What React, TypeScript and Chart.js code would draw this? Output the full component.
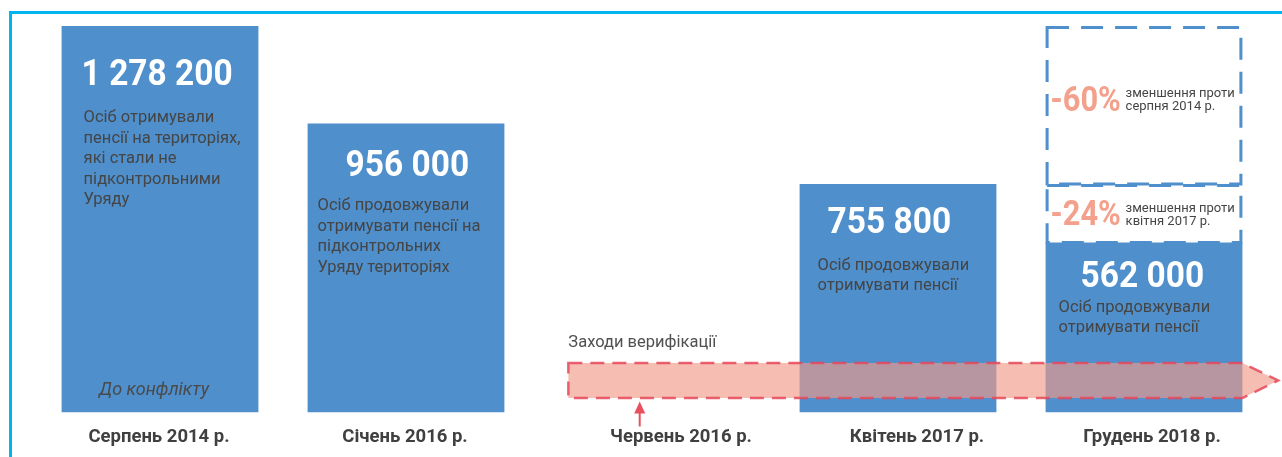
import React, { useEffect, useRef } from 'react';
import { Chart, registerables } from 'chart.js';

Chart.register(...registerables);

const categories = ['Серпень 2014 р.', 'Січень 2016 р.', 'Червень 2016 р.', 'Квітень 2017 р.', 'Грудень 2018 р.'];
const pensioners: (number | null)[] = [1278200, 956000, null, 755800, 562000];
const valueLabels = ['1 278 200', '956 000', '', '755 800', '562 000'];
const descriptions: string[][] = [
  ['Осіб отримували', 'пенсії на територіях,', 'які стали не', 'підконтрольними', 'Уряду'],
  ['Осіб продовжували', 'отримувати пенсії на', 'підконтрольних', 'Уряду територіях'],
  [],
  ['Осіб продовжували', 'отримувати пенсії'],
  ['Осіб продовжували', 'отримувати пенсії'],
];
const preConflictNote = 'До конфлікту';

const reductionFrom = [755800, 562000];
const reductionTo = [1278200, 755800];
const reductionLabels = ['-60%', '-24%'];
const reductionTexts = [
  ['зменшення проти', 'серпня 2014 р.'],
  ['зменшення проти', 'квітня 2017 р.'],
];
const reductionBarIndex = 4;

const verificationLabel = 'Заходи верифікації';
const verificationStart = 1.66;
const verificationEnd = 4.4;
const verificationTip = 4.545;
const verificationMarker = 1.95;

// layout (pixel offsets) for text placed around the marks
const tickLabelShift = [-1, -1, 29, 19, 8];
const textLayout = [
  { numDx: 20, numDy: 59, descDx: 22, descDy: 37 },
  { numDx: 38, numDy: 53, descDx: 10, descDy: 34 },
  { numDx: 0, numDy: 0, descDx: 0, descDy: 0 },
  { numDx: 28, numDy: 49, descDx: 18, descDy: 37 },
  { numDx: 35, numDy: 44, descDx: 13, descDy: 25 },
];
const reductionLayout = [
  { pctDy: 85, line1Dy: 71, line2Dy: 84 },
  { pctDy: 41, line1Dy: 28, line2Dy: 41 },
];

const BLUE = '#4f8fcc';
const TEXT_DARK = '#454545';

function condensedText(ctx: CanvasRenderingContext2D, text: string, x: number, y: number, sx: number) {
  ctx.save();
  ctx.translate(x, y);
  ctx.scale(sx, 1);
  ctx.fillText(text, 0, 0);
  ctx.restore();
}

const overlayPlugin = {
  id: 'overlay',
  afterDatasetsDraw(chart: any) {
    const ctx: CanvasRenderingContext2D = chart.ctx;
    const meta = chart.getDatasetMeta(0);
    const xs = chart.scales.x;
    const ys = chart.scales.y;
    const area = chart.chartArea;
    ctx.save();
    ctx.textAlign = 'left';
    ctx.textBaseline = 'alphabetic';

    meta.data.forEach((bar: any, i: number) => {
      if (pensioners[i] == null) return;
      const p = bar.getProps(['x', 'y', 'width'], true);
      const left = p.x - p.width / 2;
      const L = textLayout[i];
      ctx.fillStyle = '#ffffff';
      ctx.font = 'bold 36px Roboto';
      condensedText(ctx, valueLabels[i], left + L.numDx, p.y + L.numDy, 0.93);
      ctx.fillStyle = TEXT_DARK;
      ctx.font = '16.5px Roboto';
      descriptions[i].forEach((line, k) => {
        ctx.fillText(line, left + L.descDx, p.y + L.numDy + L.descDy + k * 20.5);
      });
      if (i === 0) {
        ctx.font = 'italic 18px Roboto';
        ctx.textAlign = 'center';
        ctx.fillStyle = '#4a4a4a';
        ctx.fillText(preConflictNote, p.x - 6, area.bottom - 18);
        ctx.textAlign = 'left';
      }
    });

    // reduction dashed boxes
    const rb = meta.data[reductionBarIndex].getProps(['x', 'width'], true);
    const bl = rb.x - rb.width / 2;
    reductionFrom.forEach((from, k) => {
      const top = ys.getPixelForValue(reductionTo[k]);
      const bottom = ys.getPixelForValue(from);
      ctx.save();
      ctx.strokeStyle = BLUE;
      ctx.lineWidth = 3;
      ctx.setLineDash([22, 12]);
      ctx.strokeRect(bl + 1.5, top + 1.5, rb.width - 3, bottom - top - 1.5);
      ctx.restore();
      const R = reductionLayout[k];
      ctx.fillStyle = '#f3a08c';
      ctx.font = 'bold 35px Roboto';
      condensedText(ctx, reductionLabels[k], bl + 5, top + R.pctDy, 0.88);
      ctx.fillStyle = TEXT_DARK;
      ctx.font = '13px Roboto';
      ctx.fillText(reductionTexts[k][0], bl + 80, top + R.line1Dy);
      ctx.fillText(reductionTexts[k][1], bl + 80, top + R.line2Dy);
    });

    // verification band
    const x0 = xs.getPixelForValue(verificationStart);
    const x1 = xs.getPixelForValue(verificationEnd);
    const xt = xs.getPixelForValue(verificationTip);
    const bTop = area.bottom - 49.5;
    const bBot = area.bottom - 14.5;
    const bMid = (bTop + bBot) / 2;
    ctx.beginPath();
    ctx.moveTo(x0, bTop);
    ctx.lineTo(x1, bTop);
    ctx.lineTo(xt, bMid);
    ctx.lineTo(x1, bBot);
    ctx.lineTo(x0, bBot);
    ctx.closePath();
    ctx.fillStyle = 'rgba(241,153,138,0.65)';
    ctx.fill();
    ctx.save();
    ctx.setLineDash([14, 8]);
    ctx.lineWidth = 2.5;
    ctx.strokeStyle = 'rgba(232,72,88,0.85)';
    ctx.stroke();
    ctx.restore();

    ctx.fillStyle = '#505050';
    ctx.font = '16.5px Roboto';
    ctx.fillText(verificationLabel, x0, bTop - 16);

    // marker arrow
    const xm = xs.getPixelForValue(verificationMarker);
    ctx.strokeStyle = '#e8505f';
    ctx.fillStyle = '#e8505f';
    ctx.lineWidth = 2;
    ctx.beginPath();
    ctx.moveTo(xm, area.bottom + 14);
    ctx.lineTo(xm, area.bottom - 2);
    ctx.stroke();
    ctx.beginPath();
    ctx.moveTo(xm, area.bottom - 11);
    ctx.lineTo(xm - 5.5, area.bottom + 1);
    ctx.lineTo(xm + 5.5, area.bottom + 1);
    ctx.closePath();
    ctx.fill();

    // category labels
    ctx.fillStyle = '#404040';
    ctx.font = 'bold 18.5px Roboto';
    ctx.textAlign = 'center';
    categories.forEach((c, i) => {
      ctx.fillText(c, xs.getPixelForValue(i) + tickLabelShift[i], area.bottom + 29);
    });

    ctx.restore();
  },
};

export default function App() {
  const canvasRef = useRef<HTMLCanvasElement | null>(null);

  useEffect(() => {
    if (!canvasRef.current) return;
    const chart = new Chart(canvasRef.current, {
      type: 'bar',
      data: {
        labels: categories,
        datasets: [
          {
            data: pensioners as any,
            backgroundColor: BLUE,
            borderWidth: 0,
            categoryPercentage: 1,
            barPercentage: 0.8,
          },
        ],
      },
      options: {
        animation: false,
        responsive: false,
        maintainAspectRatio: false,
        layout: { padding: { left: 37, right: 15, top: 26, bottom: 0 } },
        plugins: { legend: { display: false }, tooltip: { enabled: false }, title: { display: false } },
        scales: {
          x: {
            grid: { display: false, drawTicks: false },
            border: { display: false },
            ticks: { display: false },
            afterFit: (s: any) => {
              s.height = 44.5;
            },
          },
          y: { display: false, min: 0, max: 1278200 },
        },
      },
      plugins: [overlayPlugin],
    });
    return () => chart.destroy();
  }, []);

  return (
    <div style={{ position: 'fixed', left: 0, top: 0, width: 1282, height: 457, background: '#fff', overflow: 'hidden' }}>
      <div
        style={{
          position: 'absolute',
          left: 9,
          top: 11,
          width: 1400,
          height: 600,
          borderTop: '3px solid #00b4f0',
          borderLeft: '3px solid #00b4f0',
        }}
      />
      <canvas ref={canvasRef} width={1282} height={457} style={{ position: 'absolute', left: 0, top: 0 }} />
    </div>
  );
}
